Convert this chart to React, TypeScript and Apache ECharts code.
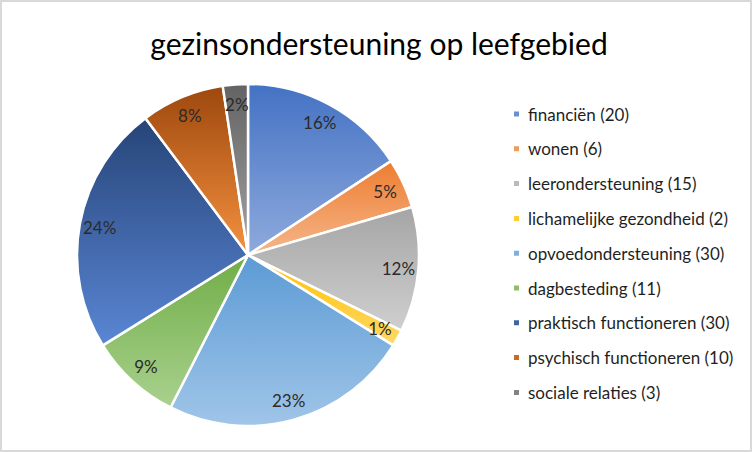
import React, { useEffect, useRef } from "react";
import * as echarts from "echarts";

const TITLE = "gezinsondersteuning op leefgebied";
const categories = [
  "financiën",
  "wonen",
  "leerondersteuning",
  "lichamelijke gezondheid",
  "opvoedondersteuning",
  "dagbesteding",
  "praktisch functioneren",
  "psychisch functioneren",
  "sociale relaties",
];
const counts = [20, 6, 15, 2, 30, 11, 30, 10, 3];
const gradients: [string, string][] = [
  ["#4472c4", "#8eaadc"],
  ["#ed7d31", "#f6b68a"],
  ["#a5a5a5", "#cfcfcf"],
  ["#ffc000", "#ffd966"],
  ["#5b9bd5", "#a0c5e8"],
  ["#70ad47", "#a9d18e"],
  ["#264478", "#5a86d4"],
  ["#9e480e", "#f4913f"],
  ["#636363", "#a3a3a3"],
];
const legendColors = [
  "#6a8fd2", "#f19a5e", "#bababa", "#ffcc33", "#7db0df", "#8cbf6a", "#3f63a6", "#c96a28", "#838383",
];

function percentLabels(vals: number[]): number[] {
  const total = vals.reduce((a, b) => a + b, 0);
  const raw = vals.map((v) => (v / total) * 100);
  const fl = raw.map((r) => Math.floor(r));
  let rem = 100 - fl.reduce((a, b) => a + b, 0);
  const order = raw
    .map((r, i) => ({ i, f: r - Math.floor(r) }))
    .sort((a, b) => b.f - a.f || b.i - a.i);
  for (let k = 0; k < rem; k++) fl[order[k].i]++;
  return fl;
}

export default function App() {
  const ref = useRef<HTMLDivElement>(null);
  useEffect(() => {
    if (!ref.current) return;
    const chart = echarts.init(ref.current, undefined, { renderer: "svg" });
    const names = categories.map((c, i) => `${c} (${counts[i]})`);
    const pcts = percentLabels(counts);
    const font = "Lato, 'Open Sans', sans-serif";
    chart.setOption({
      animation: false,
      backgroundColor: "#ffffff",
      graphic: [
        {
          type: "text",
          x: 377,
          y: 41,
          silent: true,
          style: {
            text: TITLE,
            font: `30px ${font}`,
            fill: "#000000",
            textAlign: "center",
            textVerticalAlign: "middle",
          },
        },
      ],
      legend: {
        orient: "vertical",
        left: 505,
        top: 97,
        itemWidth: 7,
        itemHeight: 7,
        itemGap: 14.8,
        icon: "rect",
        selectedMode: false,
        data: names.map((n, i) => ({ name: n, itemStyle: { color: legendColors[i] } })),
        textStyle: {
          fontFamily: font,
          fontSize: 17,
          lineHeight: 20,
          color: "#1f1f1f",
          padding: [0, 0, 0, 3],
        },
      },
      series: [
        {
          type: "pie",
          center: [246, 253],
          radius: [0, 171],
          startAngle: 90,
          clockwise: true,
          silent: true,
          label: { show: false },
          labelLine: { show: false },
          itemStyle: { borderColor: "#ffffff", borderWidth: 2.5 },
          data: counts.map((v, i) => ({
            name: names[i],
            value: v,
            itemStyle: {
              color: {
                type: "linear",
                x: 0,
                y: 0,
                x2: 0,
                y2: 1,
                colorStops: [
                  { offset: 0, color: gradients[i][0] },
                  { offset: 1, color: gradients[i][1] },
                ],
              },
            },
          })),
        },
        {
          type: "pie",
          center: [246, 253],
          radius: [125, 171],
          startAngle: 90,
          clockwise: true,
          silent: true,
          itemStyle: { color: "rgba(0,0,0,0)", borderWidth: 0 },
          label: {
            show: true,
            position: "inside",
            fontFamily: font,
            fontSize: 17,
            color: "#2b2b2b",
            formatter: (p: any) => `${pcts[p.dataIndex]}%`,
          },
          labelLine: { show: false },
          data: counts.map((v, i) => ({ name: names[i], value: v })),
        },
      ],
    });
    return () => chart.dispose();
  }, []);
  return (
    <div
      style={{
        position: "absolute",
        left: 0,
        top: 0,
        width: 752,
        height: 452,
        boxSizing: "border-box",
        border: "2px solid #d9d9d9",
        background: "#fff",
      }}
    >
      <div ref={ref} style={{ width: 748, height: 448 }} />
    </div>
  );
}
